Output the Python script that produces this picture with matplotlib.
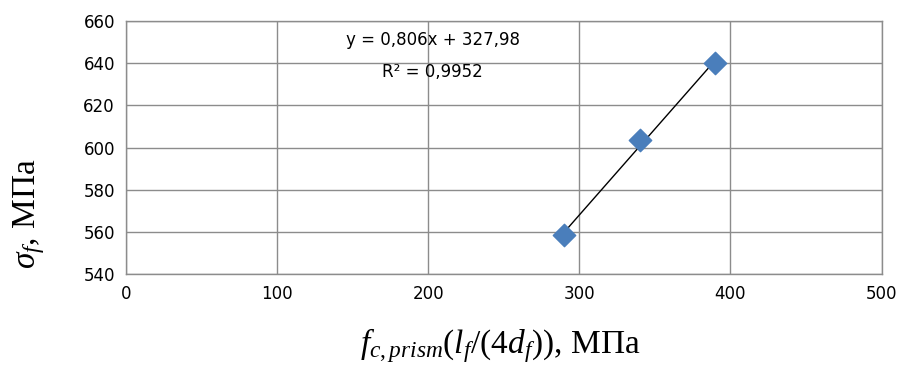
import matplotlib

matplotlib.use("Agg")
import matplotlib.pyplot as plt
import numpy as np

# data
x_vals = [290, 340, 390]
y_vals = [558.5, 603.5, 640.0]
x_ticks = [0, 100, 200, 300, 400, 500]
y_ticks = [540, 560, 580, 600, 620, 640, 660]
eq_text = "y = 0,806x + 327,98"
r2_text = "R² = 0,9952"

plt.rcParams["mathtext.fontset"] = "custom"
plt.rcParams["mathtext.rm"] = "Liberation Serif"
plt.rcParams["mathtext.it"] = "Liberation Serif:italic"
plt.rcParams["mathtext.bf"] = "Liberation Serif:bold"

fig = plt.figure(figsize=(9.07, 3.67), dpi=100)
ax = fig.add_axes([0.139, 0.253, 0.833, 0.690])

ax.set_xlim(x_ticks[0], x_ticks[-1])
ax.set_ylim(y_ticks[0], y_ticks[-1])
ax.set_xticks(x_ticks)
ax.set_yticks(y_ticks)
ax.grid(True, color="#8c8c8c", linewidth=1.0)
ax.set_axisbelow(True)
for sp in ax.spines.values():
    sp.set_color("#8c8c8c")
    sp.set_linewidth(1.0)
ax.tick_params(length=0, labelsize=12, pad=8, colors="black")

# linear trendline over the data range
coef = np.polyfit(x_vals, y_vals, 1)
xs = np.array([min(x_vals), max(x_vals)])
ax.plot(xs, np.polyval(coef, xs), color="black", linewidth=1.0, zorder=3)
ax.scatter(x_vals, y_vals, marker="D", s=130, color="#4a7ebb", edgecolors="#4a7ebb", zorder=4)

ax.text(203, 651, eq_text, ha="center", va="center", fontsize=12)
ax.text(203, 636, r2_text, ha="center", va="center", fontsize=12)

ax.set_xlabel(r"$\mathit{f_{c,prism}(l_f/(4d_f))}$, МПа", fontsize=24, family="Liberation Serif")
ax.xaxis.set_label_coords(0.495, -0.205)
ax.set_ylabel(r"$\sigma_f$, МПа", fontsize=24, family="Liberation Serif")
ax.yaxis.set_label_coords(-0.105, 0.24)

fig.savefig("out.png", dpi=100)
